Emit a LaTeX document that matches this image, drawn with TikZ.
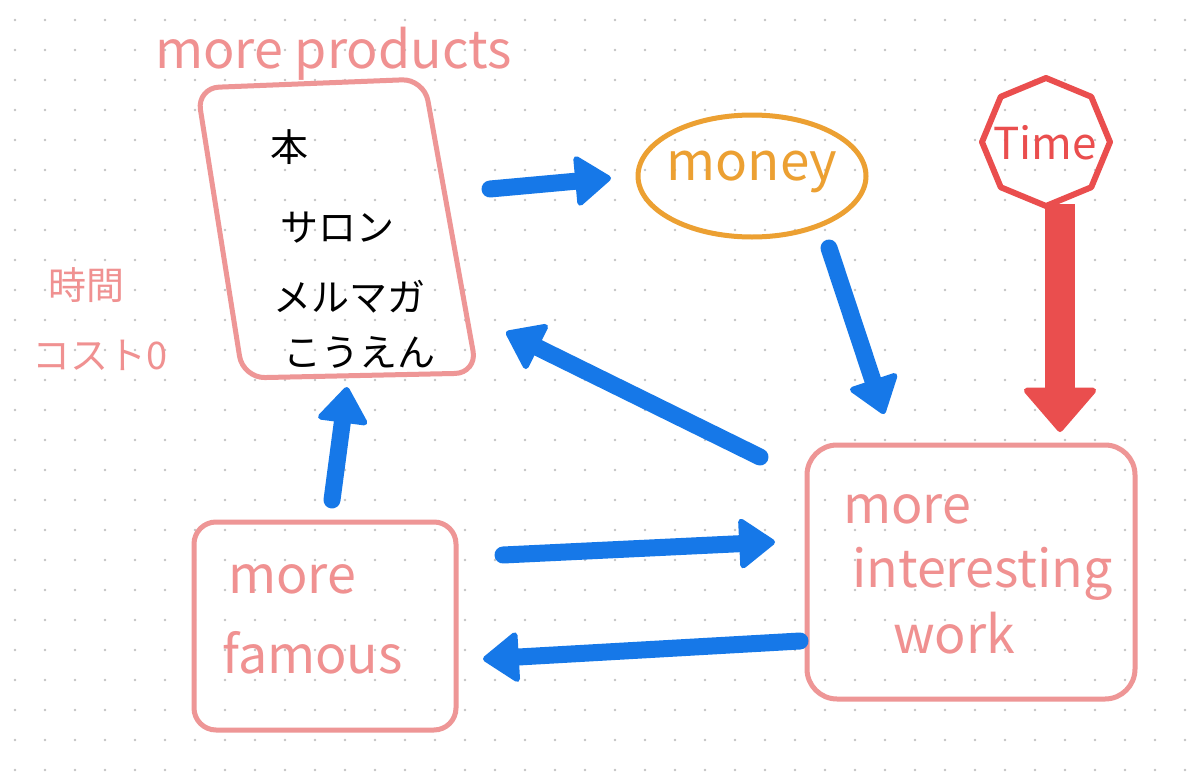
\documentclass[tikz,border=0pt]{standalone}
\usepackage{fontspec}
\setmainfont{Noto Sans CJK JP}
\usetikzlibrary{arrows.meta,shapes.geometric}
\definecolor{pinkc}{RGB}{238,150,150}
\definecolor{pinkt}{RGB}{240,145,145}
\definecolor{orangec}{RGB}{236,160,50}
\definecolor{redc}{RGB}{234,78,78}
\definecolor{bluec}{RGB}{22,120,232}
\definecolor{dotc}{RGB}{195,195,195}
\tikzset{
  pinkbox/.style={draw=pinkc,line width=5pt,rounded corners=22pt,inner sep=0pt},
  pinklabel/.style={text=pinkt,font=\fontsize{52}{60}\selectfont,inner sep=0pt},
  jplabel/.style={text=black,font=\fontsize{38}{44}\selectfont,inner sep=0pt},
  bluearrow/.style={draw=bluec,line width=17pt,line cap=round,
    -{Triangle[width=54pt,length=38pt,line width=6pt,round]}},
}
\begin{document}
\begin{tikzpicture}[x=1pt,y=-1pt]
\useasboundingbox (0,0) rectangle (1200,782);
\fill[white] (0,0) rectangle (1200,782);
% dot grid
\foreach \i in {0,...,39}{\foreach \j in {0,...,25}{
  \fill[dotc] (15+30*\i,20+30*\j) circle (1.3);}}

% products box (hand-skewed outline)
\coordinate (pTL) at (197,88);
\coordinate (pTR) at (424,79);
\coordinate (pBR) at (477,373);
\coordinate (pBL) at (243,378);
\draw[draw=pinkc,line width=5pt,rounded corners=22pt] (pTL) -- (pTR) -- (pBR) -- (pBL) -- cycle;
\node[inner sep=0pt,minimum width=250pt,minimum height=290pt] (prod) at (337,230) {};
\node[pinklabel,anchor=base west] (prodlabel) at (155,68) {more products};
\node[jplabel,anchor=west] (hon) at (270,147) {本};
\node[jplabel,anchor=west] (salon) at (280,228) {サロン};
\node[jplabel,anchor=west] (merumaga) at (273,297) {メルマガ};
\node[jplabel,anchor=west] (kouen) at (283,352) {こうえん};

% left note
\node[text=pinkt,font=\fontsize{38}{44}\selectfont,inner sep=0pt] (jikan) at (86,285) {時間};
\node[text=pinkt,font=\fontsize{38}{44}\selectfont,inner sep=0pt] (cost) at (100,355) {コスト0};

% money
\node[ellipse,draw=orangec,line width=5pt,minimum width=228pt,minimum height=122pt,inner sep=0pt] (money) at (752,176) {};
\node[text=orangec,font=\fontsize{53}{60}\selectfont,inner sep=0pt] (moneylabel) at (752,172) {money};

% time (octagon with a corner on top)
\node[inner sep=0pt,minimum size=128pt] (time) at (1046,142) {};
\draw[draw=redc,line width=6pt,line join=round,shift={(time.center)}]
  (0:64) -- (45:64) -- (90:64) -- (135:64) -- (180:64) -- (225:64) -- (270:64) -- (315:64) -- cycle;
\node[text=redc,font=\fontsize{44}{50}\selectfont,inner sep=0pt] (timelabel) at (1045,143) {Time};

% famous box
\node[pinkbox,minimum width=262pt,minimum height=208pt] (famous) at (325,626) {};
\node[pinklabel,anchor=base west] (fam1) at (228,593) {more};
\node[pinklabel,anchor=base west] (fam2) at (222,673) {famous};

% interesting box
\node[pinkbox,rounded corners=30pt,minimum width=328pt,minimum height=254pt] (work) at (971,572) {};
\node[pinklabel,anchor=base west] (w1) at (843,523) {more};
\node[pinklabel,anchor=base west] (w2) at (852,587) {interesting};
\node[pinklabel,anchor=base west] (w3) at (893,653) {work};

% arrow end points
\coordinate (a1s) at (490,189);
\coordinate (a1e) at (611,178);
\coordinate (a2s) at (829,248);
\coordinate (a2e) at (884,414);
\coordinate (a3s) at (760,457);
\coordinate (a3e) at (506,332);
\coordinate (a4s) at (332,500);
\coordinate (a4e) at (347,387);
\coordinate (a5s) at (503,555);
\coordinate (a5e) at (775,542);
\coordinate (a6s) at (800,641);
\coordinate (a6e) at (483,659);
\coordinate (ts) at (1060,204);
\coordinate (te) at (1060,432);

\draw[bluearrow] (a1s) -- (a1e);
\draw[bluearrow] (a2s) -- (a2e);
\draw[bluearrow] (a3s) -- (a3e);
\draw[bluearrow] (a4s) -- (a4e);
\draw[bluearrow] (a5s) -- (a5e);
\draw[bluearrow] (a6s) -- (a6e);
\draw[draw=redc,line width=30pt,-{Triangle[width=78pt,length=46pt,line width=6pt,round]}] (ts) -- (te);
\end{tikzpicture}
\end{document}
